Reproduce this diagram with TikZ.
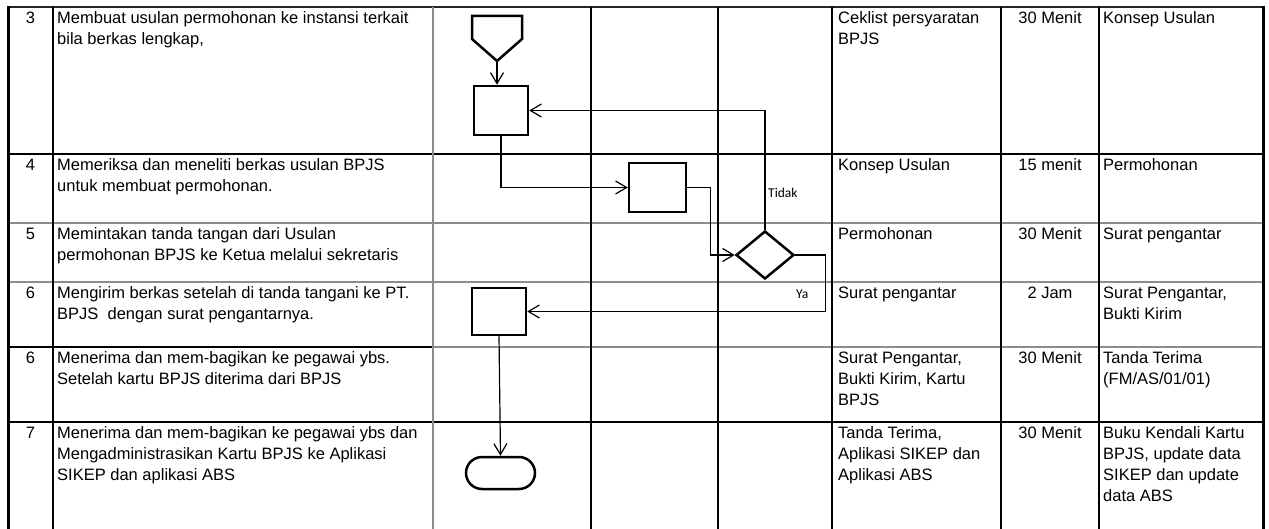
\documentclass[tikz,border=0pt]{standalone}
\usepackage{fontspec}
\setmainfont{Liberation Sans}
\newfontfamily\calfont{Carlito}
\usetikzlibrary{arrows.meta,shapes.geometric,shapes.misc}
\newcommand\fmrow[7]{%
  \node[txt,anchor=north] (#1num) at (30.5,#2+1.3) {\strut #3};
  \node[txt] (#1desc) at (57,#2+1.3) {\strut #4};
  \node[txt] (#1in) at (838,#2+1.3) {\strut #5};
  \node[txt,anchor=north,align=center] (#1time) at (1050,#2+1.3) {\strut #6};
  \node[txt] (#1out) at (1103,#2+1.3) {\strut #7};
}
\begin{document}
\begin{tikzpicture}[x=1pt,y=-1pt,
  gridk/.style={line width=1.3pt,black},
  gridg/.style={line width=1.5pt,black!45},
  border/.style={line width=3pt,black},
  txt/.style={anchor=north west,inner sep=0pt,align=left,font=\fontsize{16.5}{21}\selectfont},
  lbl/.style={anchor=base west,inner sep=0pt,font=\calfont\fontsize{13.5}{16}\selectfont},
  proc/.style={draw,line width=2.5pt,rectangle,inner sep=0pt},
  conn/.style={line width=1.2pt,-{Straight Barb[length=11pt,width=13pt]}},
  shapeline/.style={draw,line width=2.5pt,line join=miter}]
\useasboundingbox (0,0) rectangle (1269,529);
% grid
\draw[line width=2pt,black!85] (8,7) -- (1263,7);
\draw[line width=1.8pt,black] (8,154) -- (1263,154);
\draw[gridg] (8,223) -- (1263,223);
\draw[gridg] (8,282) -- (1263,282);
\draw[gridg] (433,347) -- (1263,347);
\draw[line width=2pt,black] (8,347) -- (433,347);
\draw[line width=1.8pt,black] (8,422) -- (1263,422);
\draw[gridk] (53,7) -- (53,529);
\draw[gridg] (433,7) -- (433,529);
\foreach \xx in {591,718,832,1001,1099} \draw[gridk] (\xx,7) -- (\xx,529);
\draw[border] (8,6) -- (8,529);
\draw[border] (1263,6) -- (1263,529);
% rows
\fmrow{ra}{7}{3}{Membuat usulan permohonan ke instansi terkait\\bila berkas lengkap,}{Ceklist persyaratan\\BPJS}{30 Menit}{Konsep Usulan}
\fmrow{rb}{154}{4}{Memeriksa dan meneliti berkas usulan BPJS\\untuk membuat permohonan.}{Konsep Usulan}{15 menit}{Permohonan}
\fmrow{rc}{223}{5}{Memintakan tanda tangan dari Usulan\\permohonan BPJS ke Ketua melalui sekretaris}{Permohonan}{30 Menit}{Surat pengantar}
\fmrow{rd}{282}{6}{Mengirim berkas setelah di tanda tangani ke PT.\\BPJS\ \ dengan surat pengantarnya.}{Surat pengantar}{2 Jam}{Surat Pengantar,\\Bukti Kirim}
\fmrow{re}{347}{6}{Menerima dan mem-bagikan ke pegawai ybs.\\Setelah kartu BPJS diterima dari BPJS}{Surat Pengantar,\\Bukti Kirim, Kartu\\BPJS}{30 Menit}{Tanda Terima\\(FM/AS/01/01)}
\fmrow{rf}{422}{7}{Menerima dan mem-bagikan ke pegawai ybs dan\\Mengadministrasikan Kartu BPJS ke Aplikasi\\SIKEP dan aplikasi ABS}{Tanda Terima,\\Aplikasi SIKEP dan\\Aplikasi ABS}{30 Menit}{Buku Kendali Kartu\\BPJS, update data\\SIKEP dan update\\data ABS}
% flow shapes
\draw[shapeline] (472,16) -- (522,16) -- (522,39) -- (497,61) -- (472,39) -- cycle;
\coordinate (opc) at (497,61);
\node[proc,minimum width=54pt,minimum height=49pt] (b1) at (501,110.5) {};
\node[proc,minimum width=57pt,minimum height=49pt] (b2) at (657.5,187.5) {};
\node[diamond,draw,line width=2.5pt,minimum width=58pt,minimum height=48pt,inner sep=0pt] (dec) at (765,255) {};
\node[proc,minimum width=54pt,minimum height=47pt] (b3) at (499,311.5) {};
\node[rounded rectangle,draw,line width=2.5pt,minimum width=69pt,minimum height=32pt,inner sep=0pt] (term) at (500.5,473) {};
% connectors
\draw[conn] (opc) -- (opc |- b1.north);
\draw[conn] (dec.north) |- (b1.east);
\draw[conn] (b1.south) |- (b2.west);
\draw[conn] (b2.east) -- ++(23,0) |- (dec.west);
\draw[conn] (dec.east) -- ++(30,0) |- (b3.east);
\draw[conn] (b3.south) -- (term.north);
% labels
\node[lbl] (tidak) at (768,198) {Tidak};
\node[lbl] (ya) at (796,299) {Ya};
\end{tikzpicture}
\end{document}
